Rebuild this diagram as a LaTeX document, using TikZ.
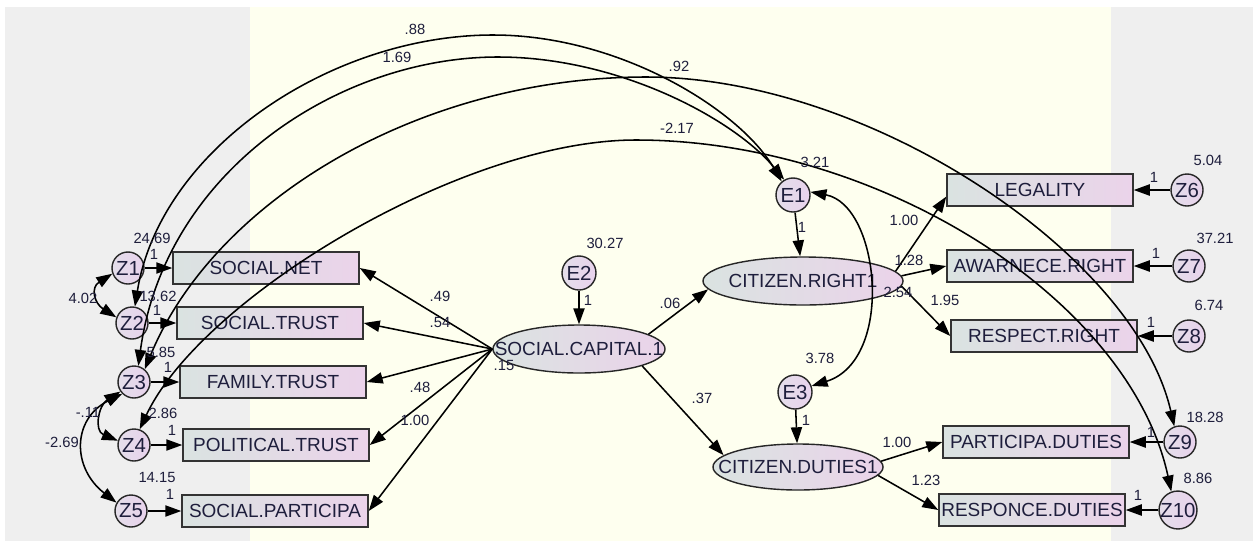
\documentclass[tikz,border=0pt]{standalone}
\usepackage{fontspec}
\setmainfont{Liberation Sans}
\usetikzlibrary{shapes.geometric,arrows.meta}
\definecolor{panelgray}{HTML}{EFEFEF}
\definecolor{panelyellow}{HTML}{FEFFEF}
\definecolor{fillleft}{HTML}{DAE3E1}
\definecolor{fillright}{HTML}{EBD3EA}
\definecolor{circleft}{HTML}{E4DEEA}
\definecolor{circright}{HTML}{E8D2EC}
\definecolor{inktext}{HTML}{1E1E3C}
\tikzset{
	obs/.style={draw=black!80,line width=1pt,left color=fillleft,right color=fillright,minimum width=4.65cm,minimum height=0.8cm,inner sep=0pt,text=inktext,font=\fontsize{13.5}{13.5}\selectfont},
	lat/.style 2 args={ellipse,draw=black!85,line width=1pt,left color=fillleft,right color=fillright,minimum width=#1,minimum height=#2,inner sep=0pt},
	lattext/.style={inner sep=0pt,text=inktext,font=\fontsize{13.5}{13.5}\selectfont},
	err/.style={circle,draw=black!85,line width=1pt,left color=circleft,right color=circright,minimum size=#1,inner sep=0pt,text=inktext,font=\fontsize{14.5}{14.5}\selectfont},
	num/.style={inner sep=0pt,text=inktext,font=\fontsize{10.5}{10.5}\selectfont},
	reg/.style={-{Triangle[length=4mm,width=2.8mm]},line width=1.1pt},
	cov/.style={{Triangle[length=4mm,width=2.8mm]}-{Triangle[length=4mm,width=2.8mm]},line width=1.1pt}
}

\begin{document}
\begin{tikzpicture}[x=0.025cm,y=-0.025cm]
	\useasboundingbox (0,0) rectangle (1253,541);
	\fill[white] (0,0) rectangle (1253,541);
	\fill[panelgray] (5,7) rectangle (250,541);
	\fill[panelyellow] (250,7) rectangle (1111,541);
	\fill[panelgray] (1111,7) rectangle (1253,541);

	\node [err=0.8cm] (z1) at (128,268) {Z1};
	\node [err=0.8cm] (z2) at (132,323) {Z2};
	\node [err=0.8cm] (z3) at (134,382) {Z3};
	\node [err=0.8cm] (z4) at (134,445) {Z4};
	\node [err=0.8cm] (z5) at (131,511) {Z5};
	\node [obs] (snet) at (266,268) {SOCIAL.NET};
	\node [obs] (strust) at (270,323) {SOCIAL.TRUST};
	\node [obs] (ftrust) at (273,382) {FAMILY.TRUST};
	\node [obs] (ptrust) at (276,445) {POLITICAL.TRUST};
	\node [obs] (spart) at (275,511) {SOCIAL.PARTICIPA};

	\node [lat={4.3cm}{1.2cm},label={[lattext,name=scapt]center:SOCIAL.CAPITAL.1}] (scap) at (579,349) {};
	\node [err=0.85cm] (e2) at (579,273) {E2};
	\node [lat={5cm}{1.2cm},label={[lattext,name=crightst]center:CITIZEN.RIGHT1}] (crights) at (803,281) {};
	\node [err=0.85cm] (e1) at (793,195) {E1};
	\node [lat={4.25cm}{1.15cm},label={[lattext,name=cdutiest]center:CITIZEN.DUTIES1}] (cduties) at (798,467) {};
	\node [err=0.85cm] (e3) at (795,392) {E3};

	\node [obs] (legal) at (1040,190) {LEGALITY};
	\node [obs] (awar) at (1040,266) {AWARNECE.RIGHT};
	\node [obs] (resp) at (1044,336) {RESPECT.RIGHT};
	\node [obs] (partd) at (1036,442) {PARTICIPA.DUTIES};
	\node [obs] (respd) at (1032,510) {RESPONCE.DUTIES};
	\node [err=0.8cm] (z6) at (1187,190) {Z6};
	\node [err=0.8cm] (z7) at (1189,266) {Z7};
	\node [err=0.8cm] (z8) at (1189,336) {Z8};
	\node [err=0.8cm] (z9) at (1180,442) {Z9};
	\node [err=0.8cm] (z10) at (1178,510) {Z10};

	\draw[reg] (z1) -- (snet);
	\draw[reg] (z2) -- (strust);
	\draw[reg] (z3) -- (ftrust);
	\draw[reg] (z4) -- (ptrust);
	\draw[reg] (z5) -- (spart);
	\draw[reg] (scap.west) -- (snet.east);
	\draw[reg] (scap.west) -- (strust.east);
	\draw[reg] (scap.west) -- (ftrust.east);
	\draw[reg] (scap.west) -- (ptrust.east);
	\draw[reg] (scap.west) -- (spart.east);
	\draw[reg] (e2) -- (scap);
	\draw[reg] (scap.12) -- (crights.185);
	\draw[reg] (scap.-15) -- (cduties.171);
	\draw[reg] (e1) -- (crights);
	\draw[reg] (e3) -- (cduties);
	\draw[reg] (crights.6) -- (legal.184);
	\draw[reg] (crights.3) -- (awar.west);
	\draw[reg] (crights.-3) -- (resp.west);
	\draw[reg] (cduties.4) -- (partd.west);
	\draw[reg] (cduties.-6) -- (respd.west);
	\draw[reg] (z6) -- (legal);
	\draw[reg] (z7) -- (awar);
	\draw[reg] (z8) -- (resp);
	\draw[reg] (z9) -- (partd);
	\draw[reg] (z10) -- (respd);

	\draw[cov] (z1.200) .. controls +(-22,14) and +(-22,-14) .. (z2.160);
	\draw[cov] (z3.215) .. controls +(-22,14) and +(-24,-10) .. (z4.165);
	\draw[cov] (z3.225) .. controls +(-50,25) and +(-45,-35) .. (z5.150);
	\draw[cov] (e1.10) .. controls (880,205) and (895,360) .. (e3.20);
	\draw[cov] (z2.80) .. controls (160,150) and (330,35) .. (493,35) .. controls (620,35) and (740,110) .. (e1.130);
	\draw[cov] (z3.75) .. controls (165,170) and (340,57) .. (498,57) .. controls (620,57) and (735,120) .. (e1.120);
	\draw[cov] (z3.50) .. controls (215,200) and (420,77) .. (646,77) .. controls (870,77) and (1135,255) .. (z9.110);
	\draw[cov] (z4.70) .. controls (200,300) and (460,140) .. (636,140) .. controls (880,140) and (1130,300) .. (z10.110);

	\node [num] (varz1) at (152,238) {24.69};
	\node [num] (onez1) at (154,254) {1};
	\node [num] (varz2) at (158,296) {13.62};
	\node [num] (onez2) at (157,310) {1};
	\node [num] (varz3) at (161,352) {5.85};
	\node [num] (onez3) at (168,367) {1};
	\node [num] (varz4) at (163,413) {2.86};
	\node [num] (onez4) at (172,430) {1};
	\node [num] (varz5) at (157,477) {14.15};
	\node [num] (onez5) at (170,494) {1};
	\node [num] (cz12) at (83,298) {4.02};
	\node [num] (cz34) at (88,412) {-.11};
	\node [num] (cz35) at (62,442) {-2.69};

	\node [num] (lsnet) at (440,296) {.49};
	\node [num] (lstrust) at (440,322) {.54};
	\node [num] (lftrust) at (504,365) {.15};
	\node [num] (lptrust) at (420,387) {.48};
	\node [num] (lspart) at (415,420) {1.00};
	\node [num] (vare2) at (605,243) {30.27};
	\node [num] (onee2) at (588,300) {1};
	\node [num] (lrights) at (670,303) {.06};
	\node [num] (lduties) at (702,398) {.37};

	\node [num] (vare1) at (815,162) {3.21};
	\node [num] (onee1) at (802,227) {1};
	\node [num] (vare3) at (820,358) {3.78};
	\node [num] (onee3) at (806,420) {1};
	\node [num] (ce13) at (898,292) {2.54};
	\node [num] (llegal) at (904,220) {1.00};
	\node [num] (lawar) at (909,260) {1.28};
	\node [num] (lresp) at (945,300) {1.95};
	\node [num] (lpartd) at (897,442) {1.00};
	\node [num] (lrespd) at (926,480) {1.23};

	\node [num] (varz6) at (1208,160) {5.04};
	\node [num] (onez6) at (1154,177) {1};
	\node [num] (varz7) at (1215,238) {37.21};
	\node [num] (onez7) at (1156,253) {1};
	\node [num] (varz8) at (1209,305) {6.74};
	\node [num] (onez8) at (1151,322) {1};
	\node [num] (varz9) at (1205,417) {18.28};
	\node [num] (onez9) at (1151,432) {1};
	\node [num] (varz10) at (1198,478) {8.86};
	\node [num] (onez10) at (1138,495) {1};

	\node [num] (cz2e1) at (415,29) {.88};
	\node [num] (cz3e1) at (397,57) {1.69};
	\node [num] (cz3z9) at (679,66) {.92};
	\node [num] (cz4z10) at (677,128) {-2.17};
\end{tikzpicture}
\end{document}
